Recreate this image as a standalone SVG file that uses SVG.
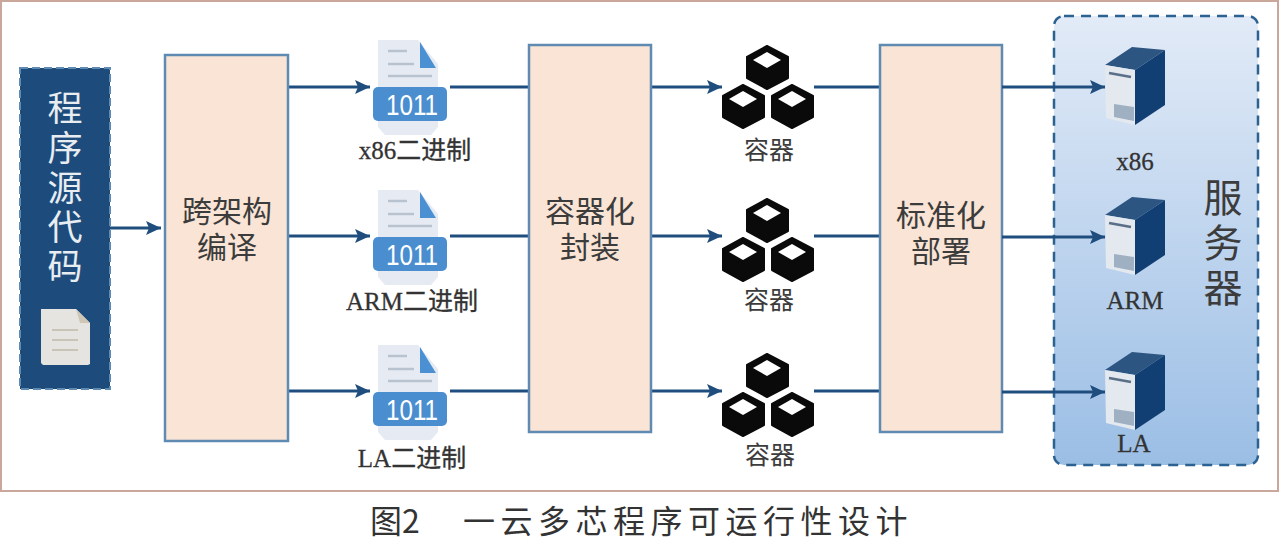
<svg xmlns="http://www.w3.org/2000/svg" width="1280" height="543" viewBox="0 0 1280 543">
<style>
.box{fill:#f9e4d5;stroke:#5f8bb3;stroke-width:2.5}
.cn{font-family:"Noto Sans CJK SC","Noto Sans",sans-serif;fill:#3c3c3c}
.lb{font-family:"Liberation Serif","Noto Sans CJK SC",serif;font-size:25px;fill:#333;stroke:#333;stroke-width:.3;text-anchor:middle}
.c{stroke:#1f4e7e;stroke-width:3;fill:none}
.m{text-anchor:middle}
</style>
<defs>
<linearGradient id="pg" x1="0" y1="0" x2="0" y2="1"><stop offset="0" stop-color="#e2ebf7"/><stop offset="1" stop-color="#9bbee5"/></linearGradient>
<marker id="ah" markerUnits="userSpaceOnUse" markerWidth="16" markerHeight="16" refX="15" refY="8" orient="auto"><path d="M0 1L15 8L0 15L3 8Z" fill="#1f4e7e"/></marker>
<g id="doc">
<path d="M378 40H418L438 64V127L431 135H385L378 127Z" fill="#e6ebf3"/>
<path d="M420 42L436 68H420Z" fill="#4a90d3"/>
<path d="M388 51H407M388 64H414M388 76H432" stroke="#b9c3cf" stroke-width="2.5" fill="none"/>
<rect x="373" y="87" width="74" height="34" rx="5" fill="#4a8ed0"/>
<text x="412" y="115" class="m" font-family="'Liberation Sans',sans-serif" font-size="29" textLength="52" lengthAdjust="spacingAndGlyphs" fill="#fff">1011</text>
</g>
<g id="cube">
<path d="M20 0L41 11V32L20 43L0 32V11Z" fill="#0a0a0a" stroke="#0a0a0a" stroke-width="2" stroke-linejoin="round"/>
<path d="M20 6L34 14L20 22L6 14Z" fill="#fff"/>
</g>
<g id="cubes">
<use href="#cube" x="747" y="46"/>
<use href="#cube" x="723" y="85"/>
<use href="#cube" x="772" y="85"/>
</g>
<g id="srv">
<path d="M1105 65L1132 47L1165 50L1135 70Z" fill="#2c5582"/>
<path d="M1135 70L1165 50V105L1135 125Z" fill="#123f73"/>
<path d="M1105 65L1135 70V125L1106 118Z" fill="#e4e8ef"/>
<path d="M1109 73L1131 77" stroke="#5a6f88" stroke-width="2.5"/>
<path d="M1114 104L1134 107V121L1114 117Z" fill="#9fb0c2"/>
</g>
</defs>
<rect width="1280" height="543" fill="#fff"/>
<rect id="frame" x="1" y="1" width="1277" height="490" fill="#fff" stroke="#c9a89b" stroke-width="2"/>
<g id="connectors">
<path class="c" d="M110 228H161" marker-end="url(#ah)"/>
<path class="c" d="M288 87H370" marker-end="url(#ah)"/>
<path class="c" d="M288 236H370" marker-end="url(#ah)"/>
<path class="c" d="M288 391H370" marker-end="url(#ah)"/>
<path class="c" d="M450 87H529M450 236H529M450 391H529"/>
<path class="c" d="M651 87H722" marker-end="url(#ah)"/>
<path class="c" d="M651 236H722" marker-end="url(#ah)"/>
<path class="c" d="M651 391H722" marker-end="url(#ah)"/>
<path class="c" d="M814 87H880M814 236H880M814 391H880"/>
</g>
<g id="servers-panel">
<rect x="1054" y="16" width="204" height="449" rx="10" fill="url(#pg)" stroke="#2b6291" stroke-width="2.5" stroke-dasharray="10 7"/>
<text class="cn m" font-size="39" fill="#333"><tspan x="1223" y="212">服</tspan><tspan x="1223" y="257">务</tspan><tspan x="1223" y="302">器</tspan></text>
</g>
<g id="source">
<rect x="20" y="68" width="90" height="321" fill="#1d4c7c" stroke="#5f8bb3" stroke-width="2" stroke-dasharray="8 4"/>
<text class="m" font-family="'Noto Sans CJK SC',sans-serif" font-size="35" fill="#e8edf2"><tspan x="65" y="121">程</tspan><tspan x="65" y="161">序</tspan><tspan x="65" y="201">源</tspan><tspan x="65" y="240">代</tspan><tspan x="65" y="279">码</tspan></text>
<path d="M41 309H76L90 323V364L88 365H43L41 363Z" fill="#e6e4e0"/>
<path d="M76 309L90 323H80Z" fill="#cfc6b6"/>
<path d="M52 330H78M52 340H78M52 350H78" stroke="#c9c4b8" stroke-width="2.2"/>
</g>
<g id="compile"><rect class="box" x="165" y="55" width="123" height="386"/>
<text class="cn m" font-size="30"><tspan x="227" y="222">跨架构</tspan><tspan x="227" y="258">编译</tspan></text></g>
<g id="package"><rect class="box" x="529" y="45" width="122" height="387"/>
<text class="cn m" font-size="30"><tspan x="590" y="222">容器化</tspan><tspan x="590" y="258">封装</tspan></text></g>
<g id="deploy"><rect class="box" x="880" y="45" width="122" height="387"/>
<text class="cn m" font-size="30"><tspan x="941" y="226">标准化</tspan><tspan x="941" y="262">部署</tspan></text></g>
<g id="bin-x86"><use href="#doc"/><text class="lb" x="415" y="159">x86二进制</text></g>
<g id="bin-arm"><use href="#doc" y="150"/><text class="lb" x="412" y="310">ARM二进制</text></g>
<g id="bin-la"><use href="#doc" y="305"/><text class="lb" x="412" y="467">LA二进制</text></g>
<g id="container-1"><use href="#cubes"/><text class="cn m" font-size="25" x="769" y="159">容器</text></g>
<g id="container-2"><use href="#cubes" y="153"/><text class="cn m" font-size="25" x="769" y="309">容器</text></g>
<g id="container-3"><use href="#cubes" y="308"/><text class="cn m" font-size="25" x="770" y="464">容器</text></g>
<g id="connectors-servers">
<path class="c" d="M1002 87H1105" marker-end="url(#ah)"/>
<path class="c" d="M1002 237H1105" marker-end="url(#ah)"/>
<path class="c" d="M1002 392H1105" marker-end="url(#ah)"/>
</g>
<g id="srv-x86"><use href="#srv"/><text class="lb" x="1135" y="170">x86</text></g>
<g id="srv-arm"><use href="#srv" y="150"/><text class="lb" x="1135" y="309">ARM</text></g>
<g id="srv-la"><use href="#srv" y="305"/><text class="lb" x="1134" y="452">LA</text></g>
<text id="caption" font-family="'Noto Sans CJK SC',sans-serif" font-size="32" fill="#333" y="533"><tspan x="370">图2</tspan><tspan x="463" letter-spacing="5.5">一云多芯程序可运行性设计</tspan></text>
</svg>
